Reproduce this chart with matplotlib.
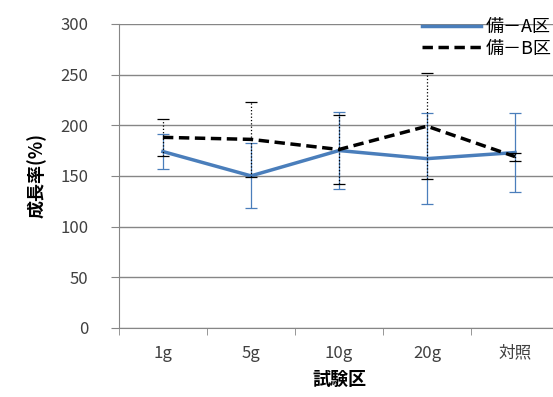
import matplotlib
matplotlib.use("Agg")
from matplotlib import pyplot as plt
from matplotlib.lines import Line2D
from matplotlib.ticker import FixedLocator

plt.rcParams['font.family'] = ['Noto Sans CJK JP', 'DejaVu Sans']

categories = ['1g', '5g', '10g', '20g', '対照']
a_values = [174, 150, 175, 167, 173]
a_err = [17, 32, 38, 45, 39]
b_values = [188, 186, 176, 199, 169]
b_err = [18, 37, 34, 52, 4]

blue = '#4A7EBB'
gray = '#868686'
text_color = '#404040'
dash = (0, (3, 1.6))

fig = plt.figure(figsize=(5.53, 3.97), dpi=100)
ax = fig.add_axes([0.215, 0.174, 0.796, 0.766])

x = list(range(len(categories)))

ax.errorbar(x, a_values, yerr=a_err, color=blue, linewidth=2.5,
            ecolor=blue, elinewidth=0.9, capsize=4, capthick=0.9, zorder=3)
eb = ax.errorbar(x, b_values, yerr=b_err, color='black', linewidth=2.5,
                 linestyle=dash, ecolor='black', elinewidth=0.9,
                 capsize=4, capthick=0.9, zorder=4)
eb[2][0].set_linestyle(':')

ax.set_xlim(-0.5, 4.5)
ax.set_ylim(0, 300)
ax.set_yticks(range(0, 301, 50))
ax.set_xticks(x)
ax.set_xticklabels(categories)
ax.xaxis.set_minor_locator(FixedLocator([i + 0.5 for i in range(-1, 5)]))
ax.tick_params(axis='x', which='major', length=0, pad=12)
ax.tick_params(axis='x', which='minor', length=5, color=gray, direction='out')
ax.tick_params(axis='y', length=6, color=gray, direction='out', pad=16)
ax.tick_params(labelsize=12, labelcolor=text_color)

ax.grid(axis='y', color=gray, linewidth=1)
ax.set_axisbelow(True)
for side in ['top', 'right']:
    ax.spines[side].set_visible(False)
for side in ['left', 'bottom']:
    ax.spines[side].set_color(gray)

ax.set_xlabel('試験区', fontsize=13, fontweight='bold', labelpad=6)
ax.set_ylabel('成長率(%)', fontsize=13, fontweight='bold', labelpad=10)

handles = [Line2D([], [], color=blue, linewidth=2.5),
           Line2D([], [], color='black', linewidth=2.5, linestyle=dash)]
labels = ['備－A区', '備－B区']
ax.legend(handles, labels, loc='upper right',
          bbox_to_anchor=(552 / 553, 1 - 18 / 397),
          bbox_transform=fig.transFigure, frameon=False, fontsize=13,
          handlelength=3.3, handletextpad=0.25, labelspacing=0.2,
          borderaxespad=0.0, borderpad=0.0)

fig.savefig('out.png', dpi=100)
